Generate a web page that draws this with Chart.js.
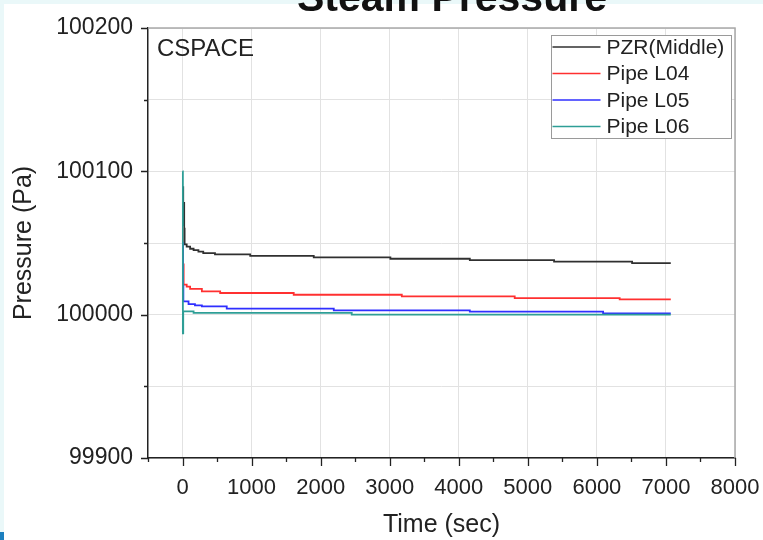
<!DOCTYPE html>
<html>
<head>
<meta charset="utf-8">
<title>Steam Pressure</title>
<script src="https://cdn.jsdelivr.net/npm/chart.js@4"></script>
<style>
  html, body { margin: 0; padding: 0; background: #eaf8f9; }
  #wrap { position: relative; width: 763px; height: 540px; overflow: hidden; }
  #panel { position: absolute; left: 4px; top: 4px; right: 0; bottom: 0; background: #fff; }
  #corner { position: absolute; left: 0; top: 532px; width: 4px; height: 8px; background: #1b7fbf; }
  #title {
    position: absolute; left: 152px; width: 600px; top: -23px;
    text-align: center; font: bold 41px/41px "Liberation Sans", Arial, sans-serif; color: #111;
  }
  canvas { position: absolute; left: 0; top: 0; }
</style>
</head>
<body>
<div id="wrap">
  <div id="panel"></div>
  <div id="corner"></div>
  <canvas id="chart" width="763" height="540"></canvas>
  <div id="title">Steam Pressure</div>
</div>
<script>
const FONT = '"Liberation Sans", Arial, sans-serif';

const seriesLabels = ['PZR(Middle)', 'Pipe L04', 'Pipe L05', 'Pipe L06'];
const seriesColors = ['#303030', '#ff3030', '#2f2fff', '#2e9e96'];
const panelLabel = 'CSPACE';

// time (sec) where each level starts, and the pressure (Pa) from there on
const pzrTime  = [0, 10, 18, 24, 30, 60, 110, 160, 230, 300, 470, 980, 1900, 3010, 4160, 5380, 6510, 7070];
const pzrValue = [100089, 100062, 100078, 100060, 100049, 100047.5, 100046, 100045, 100044, 100043, 100042, 100041, 100040, 100039, 100038, 100037, 100036, 100036];

const l04Time  = [0, 8, 16, 60, 110, 280, 545, 1610, 3175, 4810, 6330, 7070];
const l04Value = [100061, 100035, 100021, 100019.5, 100018, 100016.2, 100015.1, 100013.9, 100012.7, 100011.6, 100010.6, 100010.6];

const l05Time  = [0, 6, 12, 87, 180, 280, 640, 2190, 4160, 6090, 7070];
const l05Value = [100050, 100020, 100009.3, 100007.4, 100006.5, 100005.8, 100004.2, 100003, 100002.1, 100000.9, 100000.9];

const l06Time  = [0, 5, 10, 160, 2450, 7070];
const l06Value = [100100, 99987, 100002.3, 100001.2, 100000, 100000];

const xMin = -500, xMax = 8000, xStep = 500, xMajor = 1000;
const yMin = 99900, yMax = 100200, yStep = 50, yMajor = 100;

function toPoints(times, values) {
    return times.map((t, i) => ({ x: t, y: values[i] }));
}

const seriesData = [
    toPoints(pzrTime, pzrValue),
    toPoints(l04Time, l04Value),
    toPoints(l05Time, l05Value),
    toPoints(l06Time, l06Value)
];

// axis tick marks, frame, panel label and boxed legend (Origin style)
const originPlugin = {
    id: 'originStyle',
    afterDraw(chart) {
        const { ctx, chartArea: a, scales: { x, y } } = chart;
        ctx.save();

        // light top/right frame
        ctx.strokeStyle = '#a9a9a9';
        ctx.lineWidth = 1.5;
        ctx.beginPath();
        ctx.moveTo(a.left, a.top);
        ctx.lineTo(a.right, a.top);
        ctx.lineTo(a.right, a.bottom);
        ctx.stroke();

        // outward tick marks, long for major, short for minor
        ctx.strokeStyle = '#222';
        ctx.lineWidth = 1.3;
        ctx.beginPath();
        y.ticks.forEach(t => {
            const py = Math.round(y.getPixelForValue(t.value)) + 0.5;
            const len = t.value % yMajor === 0 ? 7 : 4;
            ctx.moveTo(a.left - len, py);
            ctx.lineTo(a.left, py);
        });
        x.ticks.forEach(t => {
            const px = Math.round(x.getPixelForValue(t.value)) + 0.5;
            const len = t.value % xMajor === 0 ? 8 : 4;
            ctx.moveTo(px, a.bottom);
            ctx.lineTo(px, a.bottom + len);
        });
        ctx.stroke();

        // panel label
        ctx.fillStyle = '#222';
        ctx.font = '24px ' + FONT;
        ctx.textBaseline = 'alphabetic';
        ctx.textAlign = 'left';
        ctx.fillText(panelLabel, a.left + 9, a.top + 28);

        // legend box
        const bx = 551.5, by = 35.5, bw = 180, bh = 103;
        ctx.fillStyle = '#fff';
        ctx.fillRect(bx, by, bw, bh);
        ctx.strokeStyle = '#9a9a9a';
        ctx.lineWidth = 1;
        ctx.strokeRect(bx, by, bw, bh);
        ctx.font = '21px ' + FONT;
        ctx.textBaseline = 'middle';
        chart.data.datasets.forEach((ds, i) => {
            const ly = 47 + i * 26.5;
            ctx.strokeStyle = ds.borderColor;
            ctx.lineWidth = 1.7;
            ctx.beginPath();
            ctx.moveTo(bx + 1, ly);
            ctx.lineTo(bx + 49, ly);
            ctx.stroke();
            ctx.fillStyle = '#222';
            ctx.fillText(ds.label, bx + 55, ly + 1);
        });

        ctx.restore();
    }
};

const datasets = seriesLabels.map((label, i) => ({
    label: label,
    data: seriesData[i],
    borderColor: seriesColors[i],
    backgroundColor: seriesColors[i],
    borderWidth: 1.8,
    pointRadius: 0,
    stepped: true,
    fill: false,
    order: seriesLabels.length - i
}));

new Chart(document.getElementById('chart').getContext('2d'), {
    type: 'line',
    data: { datasets: datasets },
    options: {
        responsive: false,
        animation: false,
        devicePixelRatio: 1,
        layout: { padding: { top: 28, right: 28, left: 0, bottom: 0 } },
        plugins: {
            legend: { display: false },
            tooltip: { enabled: false },
            title: { display: false }
        },
        scales: {
            x: {
                type: 'linear',
                min: xMin,
                max: xMax,
                ticks: {
                    stepSize: xStep,
                    autoSkip: false,
                    maxRotation: 0,
                    padding: 17,
                    color: '#222',
                    font: { size: 22, family: FONT },
                    callback: v => (v % xMajor === 0 ? String(v) : '')
                },
                grid: {
                    drawTicks: false,
                    lineWidth: 1,
                    color: c => (c.tick && c.tick.value % xMajor === 0 ? '#e2e2e2' : 'rgba(0,0,0,0)')
                },
                border: { color: '#222', width: 1.5 },
                title: {
                    display: true,
                    text: 'Time (sec)',
                    color: '#222',
                    font: { size: 25, family: FONT },
                    padding: { top: 0, bottom: 0 }
                },
                afterFit: s => {
                    s.height = 82;
                    s.paddingLeft = 0;
                    s.paddingRight = 0;
                }
            },
            y: {
                type: 'linear',
                min: yMin,
                max: yMax,
                ticks: {
                    stepSize: yStep,
                    autoSkip: false,
                    padding: 15,
                    color: '#222',
                    font: { size: 23, family: FONT },
                    callback: v => (v % yMajor === 0 ? String(v) : '')
                },
                grid: { drawTicks: false, lineWidth: 1, color: '#e2e2e2' },
                border: { color: '#222', width: 1.5 },
                title: {
                    display: true,
                    text: 'Pressure (Pa)',
                    color: '#222',
                    font: { size: 25, family: FONT },
                    padding: { top: 9, bottom: 0 }
                },
                afterFit: s => {
                    s.width = 148;
                    s.paddingTop = 0;
                    s.paddingBottom = 0;
                }
            }
        }
    },
    plugins: [originPlugin]
});
</script>
</body>
</html>
